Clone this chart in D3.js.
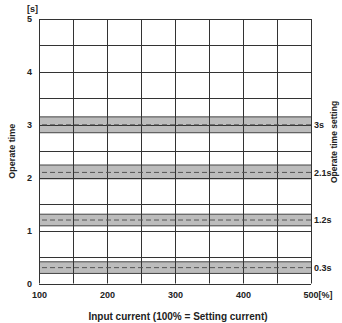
<!DOCTYPE html>
<html><head><meta charset="utf-8">
<script src="https://cdn.jsdelivr.net/npm/d3@7"></script>
<style>
body{margin:0;background:#fff;}
text{font-family:"Liberation Sans",Arial,sans-serif;font-weight:bold;fill:#222;}
</style></head>
<body><svg id="c" width="342" height="323"></svg>
<script>
const settings = [3, 2.1, 1.2, 0.3];
const settingLabels = ["3s", "2.1s", "1.2s", "0.3s"];
const bandLow = [2.85, 1.98, 1.09, 0.19];
const bandHigh = [3.15, 2.24, 1.31, 0.41];
const xTicks = [100, 200, 300, 400, 500];
const yTicks = [0, 1, 2, 3, 4, 5];
const xGrid = [100,150,200,250,300,350,400,450,500];
const yGrid = [0,0.5,1,1.5,2,2.5,3,3.5,4,4.5,5];

const svg = d3.select("#c");
const m = {l:39, r:311, t:19, b:283.5};
const x = d3.scaleLinear().domain([100,500]).range([m.l, m.r]);
const y = d3.scaleLinear().domain([0,5]).range([m.b, m.t]);

// bands
const bands = svg.append("g");
settings.forEach((s,i)=>{
  bands.append("rect").attr("x",x(100)).attr("width",x(500)-x(100))
    .attr("y",y(bandHigh[i])).attr("height",y(bandLow[i])-y(bandHigh[i]))
    .attr("fill","#bcbcbc");
  [bandLow[i],bandHigh[i]].forEach(v=>{
    bands.append("line").attr("x1",x(100)).attr("x2",x(500))
      .attr("y1",y(v)).attr("y2",y(v)).attr("stroke","#444").attr("stroke-width",1);
  });
});

// grid
const g = svg.append("g").attr("stroke","#333").attr("stroke-width",1);
xGrid.forEach(v=>g.append("line").attr("x1",Math.round(x(v))+0.5).attr("x2",Math.round(x(v))+0.5).attr("y1",y(0)).attr("y2",y(5)));
yGrid.forEach(v=>g.append("line").attr("y1",Math.round(y(v))+0.5).attr("y2",Math.round(y(v))+0.5).attr("x1",x(100)).attr("x2",x(500)));

// dashed setting lines
settings.forEach((s,i)=>{
  svg.append("line").attr("x1",x(100)+3).attr("x2",x(500)).attr("y1",y(s)).attr("y2",y(s))
    .attr("stroke","#555").attr("stroke-width",1).attr("stroke-dasharray","5,3");
  svg.append("text").attr("x",x(500)+3).attr("y",y(s)).attr("dy","0.35em")
    .attr("font-size",9).text(settingLabels[i]);
});

// axes
const xAxis = d3.axisBottom(x).tickValues(xTicks).tickSize(0).tickPadding(8)
  .tickFormat(d=>d===500?"":d);
const xg = svg.append("g").attr("transform",`translate(0,${m.b})`).call(xAxis);
xg.select(".domain").remove();
xg.selectAll("text").attr("font-size",9).attr("font-family",null).attr("fill","#222");
svg.append("text").attr("x",x(500)-7.5).attr("y",m.b+14).attr("font-size",9).text("500[%]");

const yAxis = d3.axisLeft(y).tickValues(yTicks).tickSize(0).tickPadding(7).tickFormat(d3.format("d"));
const yg = svg.append("g").attr("transform",`translate(${m.l},0)`).call(yAxis);
yg.select(".domain").remove();
yg.selectAll("text").attr("font-size",9).attr("font-family",null).attr("fill","#222");

svg.append("text").attr("x",27).attr("y",12).attr("font-size",9).text("[s]");

svg.append("text").attr("transform",`translate(15,${(m.t+m.b)/2}) rotate(-90)`)
  .attr("text-anchor","middle").attr("font-size",9).text("Operate time");
svg.append("text").attr("transform",`translate(337,142) rotate(-90)`)
  .attr("text-anchor","middle").attr("font-size",8.5).text("Operate time setting");
svg.append("text").attr("x",178).attr("y",320)
  .attr("text-anchor","middle").attr("font-size",10).text("Input current (100% = Setting current)");
</script></body></html>
